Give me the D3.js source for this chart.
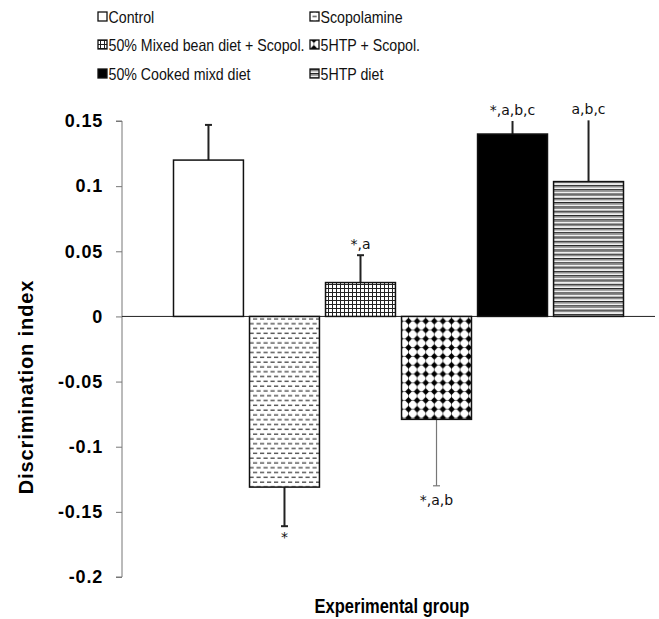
<!DOCTYPE html>
<html><head><meta charset="utf-8">
<script src="https://cdn.jsdelivr.net/npm/d3@7"></script>
<style>body{margin:0;background:#fff;}svg{display:block;}</style>
</head><body>
<script>
const groups = ["Control","Scopolamine","50% Mixed bean diet + Scopol.","5HTP + Scopol.","50% Cooked mixd diet","5HTP diet"];
const means = [0.120, -0.131, 0.026, -0.079, 0.140, 0.1035];
const errors = [0.027, 0.030, 0.021, 0.051, 0.010, 0.047];
const sigLabels = ["", "*", "*,a", "*,a,b", "*,a,b,c", "a,b,c"];
const yTicks = [0.15, 0.1, 0.05, 0, -0.05, -0.1, -0.15, -0.2];
const yTickLabels = ["0.15", "0.1", "0.05", "0", "-0.05", "-0.1", "-0.15", "-0.2"];
const patternIds = ["pControl","pScop","pGrid","pDiamond","pBlack","pStripe"];

const W = 659, H = 619;
const svg = d3.select("body").append("svg").attr("width", W).attr("height", H);
const defs = svg.append("defs");

// patterns
let p;
p = defs.append("pattern").attr("id","pControl").attr("patternUnits","userSpaceOnUse").attr("width",4).attr("height",4);
p.append("rect").attr("width",4).attr("height",4).attr("fill","#fff");

p = defs.append("pattern").attr("id","pScop").attr("patternUnits","userSpaceOnUse").attr("width",7).attr("height",9.6);
p.append("rect").attr("width",7).attr("height",9.6).attr("fill","#fff");
p.append("rect").attr("x",1).attr("y",1.5).attr("width",4.2).attr("height",1.3).attr("fill","#444");
p.append("rect").attr("x",4.5).attr("y",6.3).attr("width",4.2).attr("height",1.3).attr("fill","#444");
p.append("rect").attr("x",-2.5).attr("y",6.3).attr("width",4.2).attr("height",1.3).attr("fill","#444");

p = defs.append("pattern").attr("id","pGrid").attr("patternUnits","userSpaceOnUse").attr("width",4).attr("height",4);
p.append("rect").attr("width",4).attr("height",4).attr("fill","#fff");
p.append("rect").attr("x",0).attr("y",0).attr("width",4).attr("height",1).attr("fill","#222");
p.append("rect").attr("x",0).attr("y",0).attr("width",1).attr("height",4).attr("fill","#222");

p = defs.append("pattern").attr("id","pDiamond").attr("patternUnits","userSpaceOnUse").attr("width",8.6).attr("height",8.8);
p.append("rect").attr("width",8.6).attr("height",8.8).attr("fill","#fff");
p.append("rect").attr("x",4.0).attr("y",0).attr("width",0.6).attr("height",8.8).attr("fill","#333");
p.append("rect").attr("x",0).attr("y",4.1).attr("width",8.6).attr("height",0.6).attr("fill","#333");
p.append("path").attr("d","M4.3,1.0 L7.6,4.4 L4.3,7.8 L1.0,4.4 Z").attr("fill","#000");

p = defs.append("pattern").attr("id","pBlack").attr("patternUnits","userSpaceOnUse").attr("width",4).attr("height",4);
p.append("rect").attr("width",4).attr("height",4).attr("fill","#000");

p = defs.append("pattern").attr("id","pStripe").attr("patternUnits","userSpaceOnUse").attr("width",4).attr("height",4.3);
p.append("rect").attr("width",4).attr("height",4.3).attr("fill","#f2f2f2");
p.append("rect").attr("y",0).attr("width",4).attr("height",1.2).attr("fill","#222");
p.append("rect").attr("y",1.2).attr("width",4).attr("height",1.4).attr("fill","#888");

// scales
const y = d3.scaleLinear().domain([-0.2, 0.15]).range([577, 121]);
const x = d3.scaleBand().domain(groups).range([173.5, 623.5]).paddingInner(0.08).paddingOuter(0);

// y axis
const axisX = 122;
const yAxis = d3.axisLeft(y).tickValues(yTicks).tickSize(6).tickFormat((d,i) => yTickLabels[i]);
const gy = svg.append("g").attr("transform", `translate(${axisX},0)`).call(yAxis);
gy.select(".domain").attr("stroke","#777").attr("stroke-width",1).attr("d", `M-6,${y(0.15)}H0V${y(-0.2)}H-6`);
gy.selectAll(".tick line").attr("stroke","#777");
gy.selectAll(".tick text").attr("font-family","Liberation Sans, Arial, sans-serif").attr("font-weight","bold")
  .attr("font-size",18).attr("letter-spacing",0.8).attr("fill","#000").attr("x",-19);

// zero line
svg.append("line").attr("x1",axisX).attr("x2",655).attr("y1",y(0)).attr("y2",y(0)).attr("stroke","#222").attr("stroke-width",1);

// error bars (draw before bars)
const eb = svg.append("g");
groups.forEach((g,i) => {
  const cx = x(g) + x.bandwidth()/2;
  const v = means[i], e = errors[i];
  const end = v >= 0 ? v + e : v - e;
  const col = i === 3 ? "#777" : "#222";
  eb.append("line").attr("x1",cx).attr("x2",cx).attr("y1",y(v)).attr("y2",y(end)).attr("stroke",col).attr("stroke-width", i===3?1.2:2);
  if (i < 4) {
    eb.append("line").attr("x1",cx-3.5).attr("x2",cx+3.5).attr("y1",y(end)).attr("y2",y(end)).attr("stroke",col).attr("stroke-width", i===3?1.2:2);
  }
});

// bars
svg.append("g").selectAll("rect").data(groups).join("rect")
  .attr("x", d => x(d))
  .attr("width", x.bandwidth())
  .attr("y", (d,i) => y(Math.max(0, means[i])))
  .attr("height", (d,i) => Math.abs(y(means[i]) - y(0)))
  .attr("fill", (d,i) => `url(#${patternIds[i]})`)
  .attr("stroke", "#111").attr("stroke-width", 1.5);

// significance labels
groups.forEach((g,i) => {
  if (!sigLabels[i]) return;
  const cx = x(g) + x.bandwidth()/2;
  const v = means[i], e = errors[i];
  const end = v >= 0 ? v + e : v - e;
  const yy = v >= 0 ? y(end) - 6 : y(end) + (i===1 ? 16 : 19);
  svg.append("text").attr("x", cx).attr("y", yy).attr("text-anchor","middle")
    .attr("font-family","DejaVu Sans, sans-serif").attr("font-size",14).attr("fill","#111").text(sigLabels[i]);
});

// axis titles
svg.append("text").attr("transform", `translate(33,387) rotate(-90)`).attr("text-anchor","middle")
  .attr("font-family","Liberation Sans, Arial, sans-serif").attr("font-weight","bold").attr("font-size",20)
  .attr("letter-spacing",0.9).text("Discrimination index");
svg.append("text").attr("x", 392).attr("y", 0).attr("transform","translate(0,613) scale(1,1.2)").attr("text-anchor","middle")
  .attr("font-family","Liberation Sans, Arial, sans-serif").attr("font-weight","bold").attr("font-size",16.5).text("Experimental group");

// legend
const legCols = [98, 310];
const legRows = [17, 45, 74];
groups.forEach((g,i) => {
  const lx = legCols[i % 2], ly = legRows[Math.floor(i/2)];
  svg.append("rect").attr("x", lx).attr("y", ly-5).attr("width", 9).attr("height", 9)
    .attr("fill", `url(#${patternIds[i]})`).attr("stroke","#111").attr("stroke-width",1.3);
  svg.append("text").attr("x", 0).attr("y", 0)
    .attr("transform", `translate(${lx + 10.5},${ly + 6}) scale(1,1.22)`)
    .attr("font-family","Liberation Sans, Arial, sans-serif").attr("font-size",14.2).attr("fill","#111").text(g);
});
</script>
</body></html>
